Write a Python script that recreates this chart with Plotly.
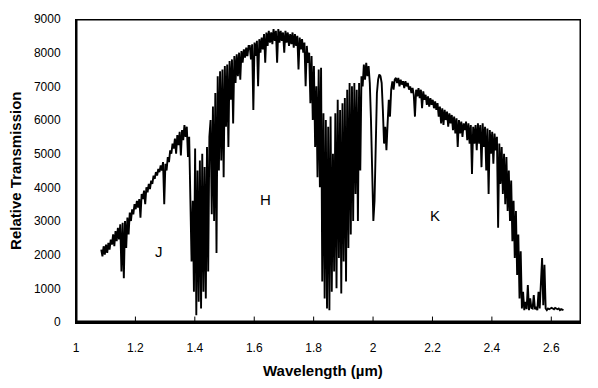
import numpy as np
import plotly.graph_objects as go

STEP = 0.004  # wavelength sampling (µm)

# J band (start 1.085 µm)
j_band_start = 1.085
j_band = [2150, 1950, 2250, 2000, 2300, 2050, 2350, 2150, 2450, 2300,
          2600, 2250, 2700, 2400, 2800, 2450, 2900, 1500, 2950, 1300,
          3000, 2200, 3100, 2600, 3250, 3000, 3350, 3200, 3500, 3350,
          3600, 3400, 3650, 3100, 3800, 3650, 3900, 3500, 4000, 3850,
          4100, 3950, 4200, 4100, 4350, 4250, 4450, 4350, 4550, 4450,
          4650, 4500, 4750, 3500, 4700, 4500, 4900, 4750, 5100, 5000,
          5300, 5150, 5450, 5000, 5550, 5250, 5650, 4950, 5700, 5400,
          5850, 5500, 5800, 4900, 5500]

# 1.4 µm water band
w14_start = 1.385
w14 = [3800, 1800, 3600, 900, 5150, 200, 4500, 600, 4800, 400,
       5000, 900, 4600, 700, 5200, 1500, 5500]

# recovery into H
rise_start = 1.453
rise = [6000, 3200, 6400, 3000, 6800, 2050, 7300, 4500, 7450, 4800,
        7500, 4300, 7600, 5800, 7650, 5200, 7750, 6600, 7800, 5900,
        7900, 7100, 7950, 7300, 8000, 7200, 8050, 7700, 8100, 7850,
        8150, 7900, 8200]

# H band
h_band_start = 1.585
h_band = [8200, 7800, 8250, 6300, 8300, 7900, 8350, 7000, 8400, 8000,
          8450, 8100, 8550, 7700, 8600, 8200, 8650, 8300, 8600, 8250,
          8700, 8350, 8650, 7700, 8700, 8300, 8650, 8350, 8600, 8000,
          8650, 8300, 8600, 8200, 8550, 8250, 8600, 8150, 8550, 8200,
          8500, 7500, 8450, 8100, 8400, 8000, 8300, 7000, 8200, 7700,
          8000, 6500, 7900, 6000, 7600, 5200, 7000, 4300]

# 1.9 µm water band
w19_start = 1.817
w19 = [7500, 4000, 7550, 1200, 6200, 700, 6000, 400, 5800, 350,
       6100, 900, 5000, 1500, 6200, 1000, 6600, 1900, 6300, 850,
       6500, 1800, 6650, 1200, 6900, 2200, 7100, 2600, 7000, 3000,
       7100, 3800, 6900, 3000, 7100, 4500, 7300]

# 2.0 µm CO2 features
co2_start = 1.965
co2 = [7000, 7650, 7200, 7700, 7300, 7600, 7100, 6000, 4700, 3000,
       3600, 5500, 6800, 7200, 7350, 7300, 7100, 6300, 5300, 5800,
       5100, 5900, 6600, 6100, 6900, 7150, 6900, 7200, 7250, 7100,
       7250]

# K band
k_band_start = 2.089
k_band = [7000, 7200, 7050, 7150, 6950, 7150, 7000, 7100, 6900, 7000,
          6800, 6950, 6750, 6100, 6900, 6700, 6950, 6650, 6900, 6350,
          6850, 6600, 6750, 6450, 6700, 6400, 6650, 6450, 6600, 6350,
          6550, 6300, 6500, 6100, 6400, 5900, 6350, 5850, 6300, 6000,
          6250, 5800, 6200, 5900, 6150, 5700, 6100, 5600, 6050, 5200,
          6000, 5600, 5950, 5500, 5900, 5700, 5950, 5400, 5900, 5300,
          5850, 4400, 5800, 5300, 5850, 5100, 5900, 5300, 5850, 4600,
          5900, 5200, 5800, 4500, 5750]

# K band red edge and cut-off
k_edge_start = 2.389
k_edge = [3800, 5700, 5000, 5650, 4700, 5600, 5100, 5500, 2800, 5300,
          4100, 5200, 3800, 5000, 3500, 4900, 3300, 4500, 3000, 4200,
          2400, 3600, 1900, 3300, 1400, 2600, 700, 2100, 400, 900,
          350, 600, 380, 1100, 350, 700, 420, 400, 800, 380,
          450, 350, 900, 400, 1000, 1900, 500, 1700, 400, 350,
          400, 380, 400, 420, 400, 380, 420, 400, 380, 400,
          350, 380, 360, 350]

segments = [(j_band_start, j_band), (w14_start, w14), (rise_start, rise),
            (h_band_start, h_band), (w19_start, w19), (co2_start, co2),
            (k_band_start, k_band), (k_edge_start, k_edge)]

wl = np.concatenate([s + STEP * np.arange(len(v)) for s, v in segments])
flux = np.concatenate([np.array(v, dtype=float) for _, v in segments])

x_ticks = [1, 1.2, 1.4, 1.6, 1.8, 2, 2.2, 2.4, 2.6]
x_tick_text = ["1", "1.2", "1.4", "1.6", "1.8", "2", "2.2", "2.4", "2.6"]
y_ticks = [0, 1000, 2000, 3000, 4000, 5000, 6000, 7000, 8000, 9000]
x_range = [1, 2.7]
y_range = [0, 9000]

band_names = ["J", "H", "K"]
band_x = [1.281, 1.639, 2.208]
band_y = [2080, 3650, 3170]

FONT = "Arial, Liberation Sans, sans-serif"

fig = go.Figure()
fig.add_trace(go.Scatter(x=wl, y=flux, mode="lines",
                         line=dict(color="black", width=1.9),
                         showlegend=False, hoverinfo="skip"))

for name, bx, by in zip(band_names, band_x, band_y):
    fig.add_annotation(x=bx, y=by, text=name, showarrow=False,
                       font=dict(family=FONT, size=15, color="black"))

fig.add_annotation(xref="paper", yref="paper", x=0.4886, y=-0.161,
                   text="<b>Wavelength (µm)</b>", showarrow=False,
                   xanchor="center", yanchor="middle",
                   font=dict(family=FONT, size=15, color="black"))
fig.add_annotation(xref="paper", yref="paper", x=-0.12, y=0.5,
                   text="<b>Relative Transmission</b>", showarrow=False,
                   textangle=-90, xanchor="center", yanchor="middle",
                   font=dict(family=FONT, size=15, color="black"))

# plot frame
fig.add_shape(type="rect", xref="x", yref="y",
              x0=x_range[0], y0=y_range[0], x1=x_range[1], y1=y_range[1],
              layer="above", line=dict(color="black", width=3))

# inside tick marks on the wavelength axis
for t in x_ticks[1:]:
    fig.add_shape(type="line", xref="x", yref="y", x0=t, x1=t,
                  y0=y_range[0], y1=y_range[1] * 0.018,
                  layer="above", line=dict(color="black", width=1))

fig.update_layout(
    width=598, height=388,
    margin=dict(l=76, r=17, t=19, b=66, autoexpand=False),
    paper_bgcolor="white", plot_bgcolor="white",
    font=dict(family=FONT, size=12, color="black"),
    xaxis=dict(range=x_range, tickvals=x_ticks, ticktext=x_tick_text,
               ticks="", showline=True, linecolor="black", linewidth=2,
               showgrid=False, zeroline=False, ticklabelstandoff=14,
               automargin=False, tickfont=dict(family=FONT, size=12)),
    yaxis=dict(range=y_range, tickvals=y_ticks, ticks="",
               showline=True, linecolor="black", linewidth=1,
               showgrid=False, zeroline=False, ticklabelstandoff=12,
               automargin=False, tickfont=dict(family=FONT, size=12)),
)

fig.write_html("out.html", config={"displayModeBar": False},
               post_script="document.body.style.margin='0';")
